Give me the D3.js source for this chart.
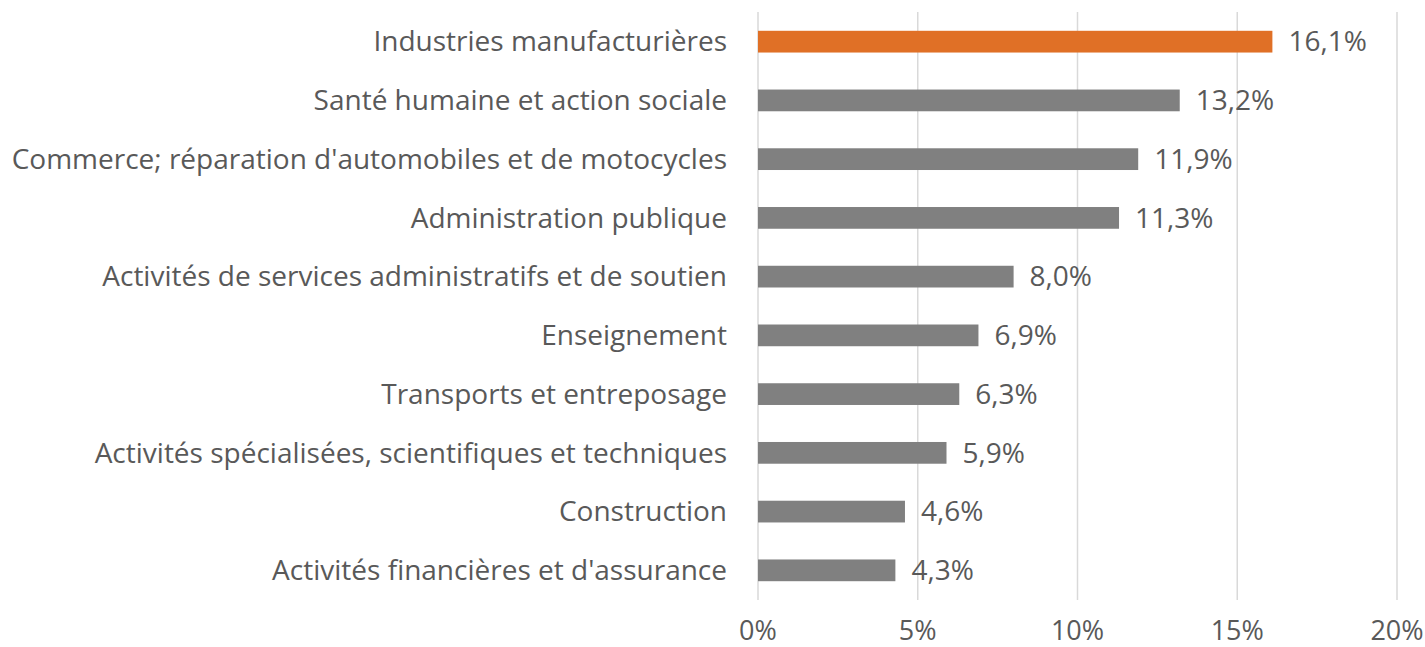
<!DOCTYPE html>
<html>
<head>
<meta charset="utf-8">
<script src="https://cdn.jsdelivr.net/npm/d3@7"></script>
<style>
  body { margin: 0; background: #fff; }
  svg text { font-family: "Open Sans", sans-serif; fill: #595959; }
</style>
</head>
<body>
<svg id="vis" width="1425" height="647"></svg>
<script>
const categories = [
    "Industries manufacturières",
    "Santé humaine et action sociale",
    "Commerce; réparation d'automobiles et de motocycles",
    "Administration publique",
    "Activités de services administratifs et de soutien",
    "Enseignement",
    "Transports et entreposage",
    "Activités spécialisées, scientifiques et techniques",
    "Construction",
    "Activités financières et d'assurance"
];
const values = [16.1, 13.2, 11.9, 11.3, 8.0, 6.9, 6.3, 5.9, 4.6, 4.3];
const highlight = "Industries manufacturières";
const ticks = [0, 5, 10, 15, 20];

const chart = {

    dims : { left : 758, right : 1397, top : 12, bottom : 600 },

    colors : { main : '#808080', accent : '#E07026', grid : '#d9d9d9' },

    render : function() {

        const d = chart.dims;
        const svg = d3.select("svg#vis");
        const data = categories.map((c, i) => ({ cat : c, val : values[i] }));

        const x = d3.scaleLinear().domain([0, 20]).range([d.left, d.right]);
        const y = d3.scaleBand().domain(categories).range([d.top, d.bottom]).paddingInner(0.63).paddingOuter(0.32);

        // gridlines
        svg.append("g")
            .selectAll("line")
            .data(ticks)
            .join("line")
            .attr("x1", t => x(t)).attr("x2", t => x(t))
            .attr("y1", d.top).attr("y2", d.bottom)
            .attr("stroke", chart.colors.grid)
            .attr("stroke-width", 1.5);

        // tick labels
        svg.append("g")
            .selectAll("text")
            .data(ticks)
            .join("text")
            .attr("x", t => x(t))
            .attr("y", 640)
            .attr("text-anchor", "middle")
            .attr("font-size", 27)
            .text(t => t + "%");

        // bars
        svg.append("g")
            .selectAll("rect")
            .data(data)
            .join("rect")
            .attr("x", x(0))
            .attr("y", r => y(r.cat))
            .attr("width", r => x(r.val) - x(0))
            .attr("height", y.bandwidth())
            .attr("fill", r => r.cat === highlight ? chart.colors.accent : chart.colors.main);

        // category labels
        svg.append("g")
            .selectAll("text")
            .data(data)
            .join("text")
            .attr("x", d.left - 31)
            .attr("y", r => y(r.cat) + y.bandwidth() / 2)
            .attr("dy", "0.35em")
            .attr("text-anchor", "end")
            .attr("font-size", 28)
            .text(r => r.cat);

        // value labels
        svg.append("g")
            .selectAll("text")
            .data(data)
            .join("text")
            .attr("x", r => x(r.val) + 16)
            .attr("y", r => y(r.cat) + y.bandwidth() / 2)
            .attr("dy", "0.35em")
            .attr("font-size", 28)
            .text(r => r.val.toFixed(1).replace(".", ",") + "%");
    }
};

chart.render();
</script>
</body>
</html>
